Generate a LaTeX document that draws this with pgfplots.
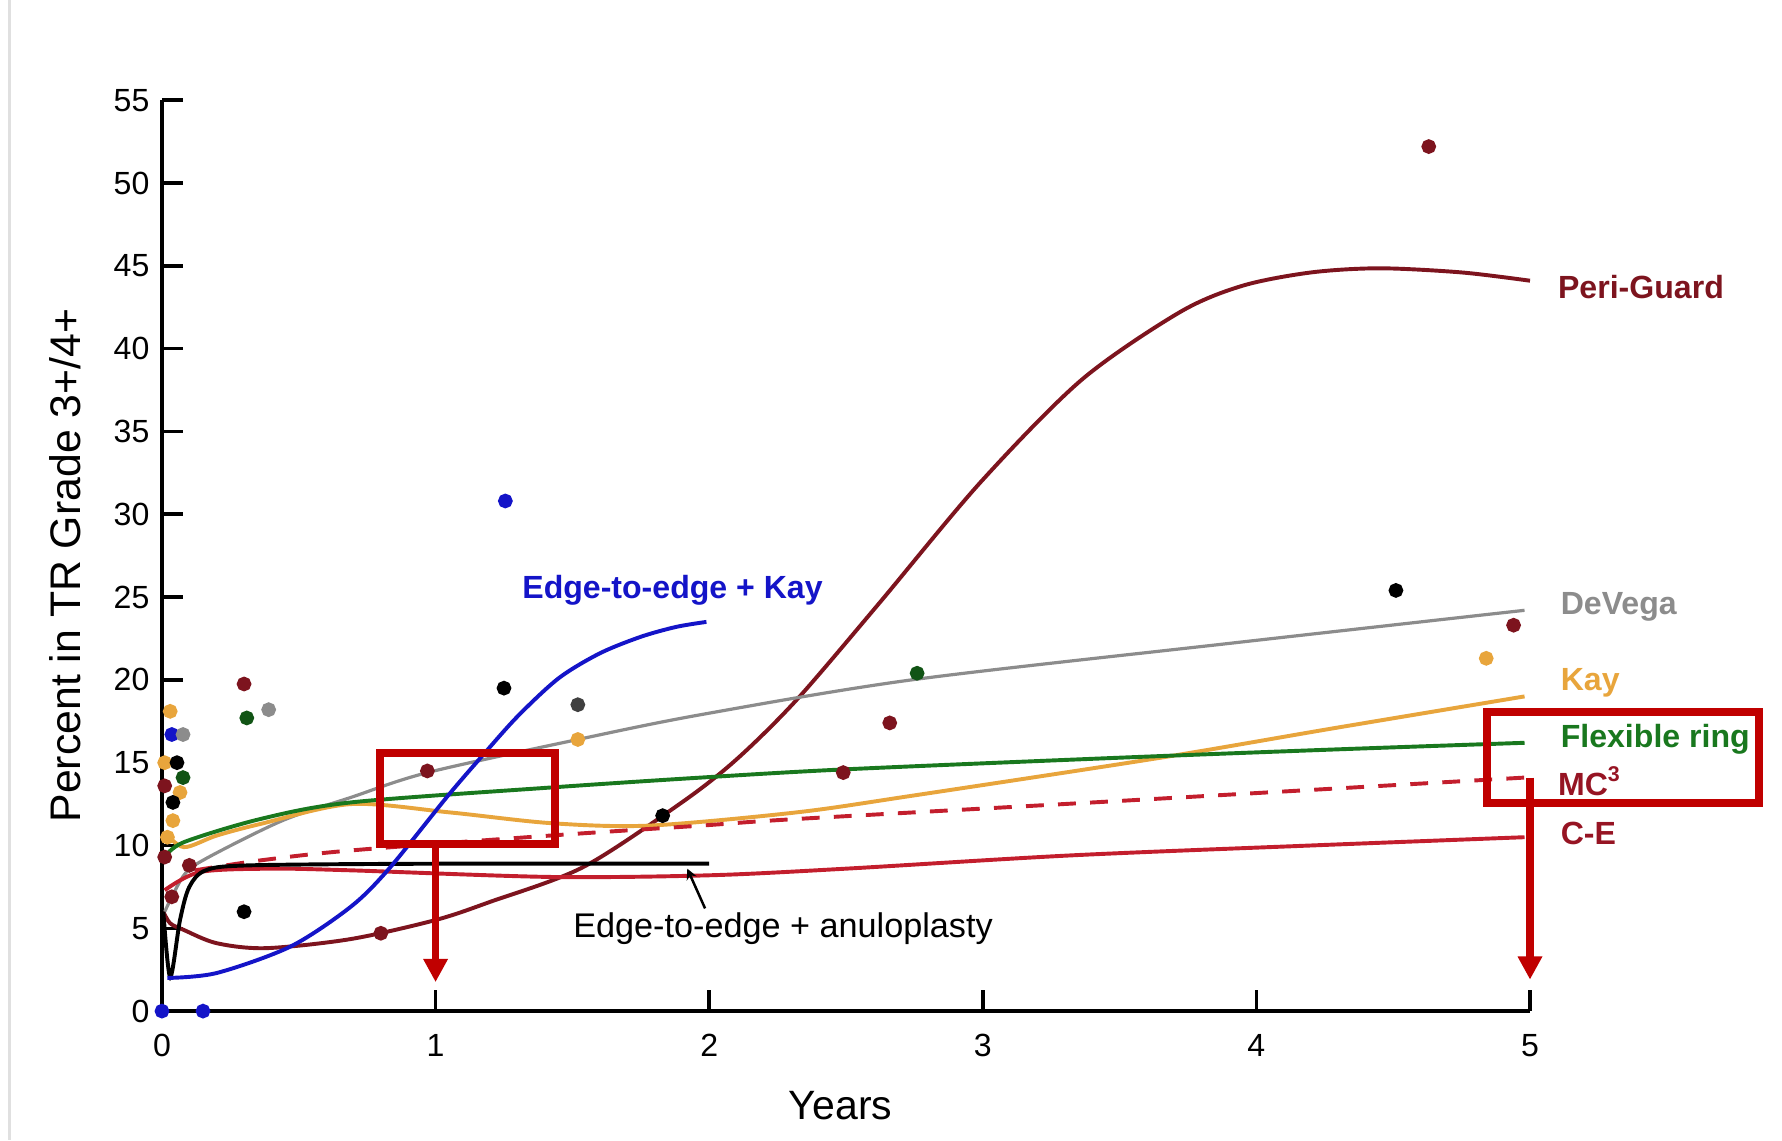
\documentclass[border=0pt]{standalone}
\usepackage{pgfplots}
\pgfplotsset{compat=1.18}
\usepackage{fontspec}
\setmainfont{Liberation Sans}
\usetikzlibrary{arrows.meta}
\definecolor{pg}{RGB}{125,20,30}
\definecolor{dv}{RGB}{140,140,140}
\definecolor{ky}{RGB}{232,165,60}
\definecolor{fr}{RGB}{25,120,30}
\definecolor{mc}{RGB}{195,30,45}
\definecolor{bl}{RGB}{20,20,200}
\definecolor{ann}{RGB}{192,0,0}
\definecolor{lbred}{RGB}{150,20,35}
\begin{document}
\begin{tikzpicture}
\begin{axis}[
  x=76.77pt, y=4.647pt,
  xmin=0, xmax=5, ymin=0, ymax=55,
  axis lines=left,
  axis line style={-, line width=1pt},
  tick align=inside,
  major tick length=6pt,
  tick style={line width=1pt, black},
  xtick={0,1,2,3,4,5},
  ytick={0,5,10,15,20,25,30,35,40,45,50,55},
  /pgf/number format/assume math mode=true,
  ticklabel style={font=\fontsize{9}{10}\selectfont},
  xticklabel style={yshift=-3pt},
  xlabel={Years},
  ylabel={Percent in TR Grade 3+/4+},
  xlabel style={font=\fontsize{11.5}{13}\selectfont, at={(axis cs:2.48,-5.7)}, anchor=center},
  ylabel style={font=\fontsize{12}{14}\selectfont, at={(axis cs:-0.355,26.9)}, anchor=center},
  clip=false,
  every axis plot/.append style={line width=1.1pt},
]
% curves
\addplot[pg, smooth] coordinates {(0.005,6.0)(0.03,5.3)(0.08,4.9)(0.2,4.1)(0.38,3.8)(0.69,4.35)(1.0,5.5)(1.2,6.6)(1.54,8.7)(1.9,12.6)(2.1,15.2)(2.32,18.8)(2.62,24.6)(2.99,31.9)(3.36,38.1)(3.72,42.2)(3.95,43.8)(4.2,44.6)(4.45,44.85)(4.75,44.6)(5.0,44.1)};
\addplot[dv, smooth, line width=0.9pt] coordinates {(0.01,6.0)(0.08,8.2)(0.16,9.2)(0.44,11.5)(0.69,12.9)(0.97,14.4)(1.52,16.4)(1.97,17.9)(2.74,20.0)(3.9,22.2)(4.98,24.2)};
\addplot[ky, smooth] coordinates {(0.01,10.8)(0.08,9.9)(0.2,10.6)(0.36,11.3)(0.69,12.5)(1.05,12.0)(1.42,11.35)(1.78,11.2)(2.32,12.0)(2.74,13.0)(3.65,15.3)(4.29,17.1)(4.98,19.0)};
\addplot[fr, smooth] coordinates {(0.01,9.3)(0.08,10.2)(0.36,11.6)(0.69,12.6)(1.42,13.5)(1.97,14.1)(2.5,14.6)(3.5,15.3)(4.29,15.8)(4.98,16.2)};
\addplot[mc, smooth, dash pattern=on 5pt off 4pt] coordinates {(0.12,8.5)(0.36,9.1)(0.69,9.7)(1.42,10.6)(1.97,11.2)(2.32,11.6)(3.51,12.7)(4.98,14.1)};
\addplot[mc, smooth] coordinates {(0.01,7.3)(0.14,8.4)(0.4,8.6)(0.69,8.5)(1.42,8.1)(2.0,8.2)(2.5,8.6)(3.32,9.4)(4.2,10.0)(4.98,10.5)};
\addplot[black, smooth] coordinates {(0.005,6.0)(0.03,2.05)(0.066,5.5)(0.1,7.5)(0.16,8.5)(0.32,8.8)(1.0,8.9)(2.0,8.9)};
\addplot[bl, smooth] coordinates {(0.02,2.0)(0.2,2.3)(0.47,3.9)(0.69,6.3)(0.83,8.6)(1.04,12.9)(1.17,15.4)(1.30,17.8)(1.45,20.1)(1.6,21.6)(1.75,22.6)(1.88,23.2)(1.99,23.5)};
% scatter points
\addplot[only marks, mark=*, mark size=1.5pt, color=pg] coordinates {(0.01,13.6)(0.01,9.3)(0.036,6.9)(0.1,8.8)(0.3,19.75)(0.8,4.7)(0.97,14.5)(2.49,14.4)(2.66,17.4)(4.63,52.2)(4.94,23.3)};
\addplot[only marks, mark=*, mark size=1.5pt, color=ky] coordinates {(0.03,18.1)(0.01,15.0)(0.066,13.2)(0.04,11.5)(0.02,10.5)(1.52,16.4)(4.84,21.3)};
\addplot[only marks, mark=*, mark size=1.5pt, color=bl] coordinates {(0.036,16.7)(0.0,0)(0.15,0)(1.255,30.8)};
\addplot[only marks, mark=*, mark size=1.5pt, color=dv] coordinates {(0.077,16.7)(0.39,18.2)};
\addplot[only marks, mark=*, mark size=1.5pt, color=black!75] coordinates {(1.52,18.5)};
\addplot[only marks, mark=*, mark size=1.5pt, color=fr!70!black] coordinates {(0.077,14.1)(0.31,17.7)(2.76,20.4)};
\addplot[only marks, mark=*, mark size=1.5pt, color=black] coordinates {(0.055,15.0)(0.04,12.6)(0.3,6.0)(1.25,19.5)(1.83,11.8)(4.51,25.4)};
% labels
\tikzset{rl/.style={anchor=west, inner sep=0pt, font=\bfseries\fontsize{9}{10}\selectfont}}
\node[rl, text=pg] at (axis cs:5.1,43.7) {Peri-Guard};
\node[rl, text=dv] at (axis cs:5.11,24.4) {DeVega};
\node[rl, text=ky] at (axis cs:5.11,19.8) {Kay};
\node[rl, text=fr] at (axis cs:5.11,16.4) {Flexible ring};
\node[rl, text=lbred] at (axis cs:5.1,13.9) {MC$^{\mathbf{3}}$};
\node[rl, text=lbred] at (axis cs:5.11,10.7) {C-E};
\node[anchor=center, text=bl, font=\bfseries\fontsize{9}{10}\selectfont] at (axis cs:1.866,25.4) {Edge-to-edge + Kay};
\node[anchor=center, text=black, font=\fontsize{9.6}{11}\selectfont] at (axis cs:2.27,4.98) {Edge-to-edge + anuloplasty};
\draw[black, line width=0.7pt, -{Stealth[length=3pt,width=3pt]}] (axis cs:1.985,6.2) -- (axis cs:1.92,8.6);
% red annotations
\draw[ann, line width=2.25pt] (axis cs:0.797,10.08) rectangle (axis cs:1.436,15.58);
\draw[ann, line width=2.25pt] (axis cs:4.843,12.56) rectangle (axis cs:5.837,18.06);
\draw[ann, line width=2pt, -{Triangle[length=6.5pt,width=6.5pt]}] (axis cs:1.0,10.08) -- (axis cs:1.0,1.75);
\draw[ann, line width=2pt, -{Triangle[length=6.5pt,width=6.5pt]}] (axis cs:5.0,14.1) -- (axis cs:5.0,1.9);
% frame border line and bounding box
\draw[black!12, line width=0.8pt] (axis cs:-0.556,61.05) -- (axis cs:-0.556,-7.79);
\coordinate (bbBL) at (axis cs:-0.592,-7.79);
\coordinate (bbTR) at (axis cs:5.921,61.05);
\end{axis}
\pgfresetboundingbox
\path[use as bounding box] (bbBL) rectangle (bbTR);
\end{tikzpicture}
\end{document}
